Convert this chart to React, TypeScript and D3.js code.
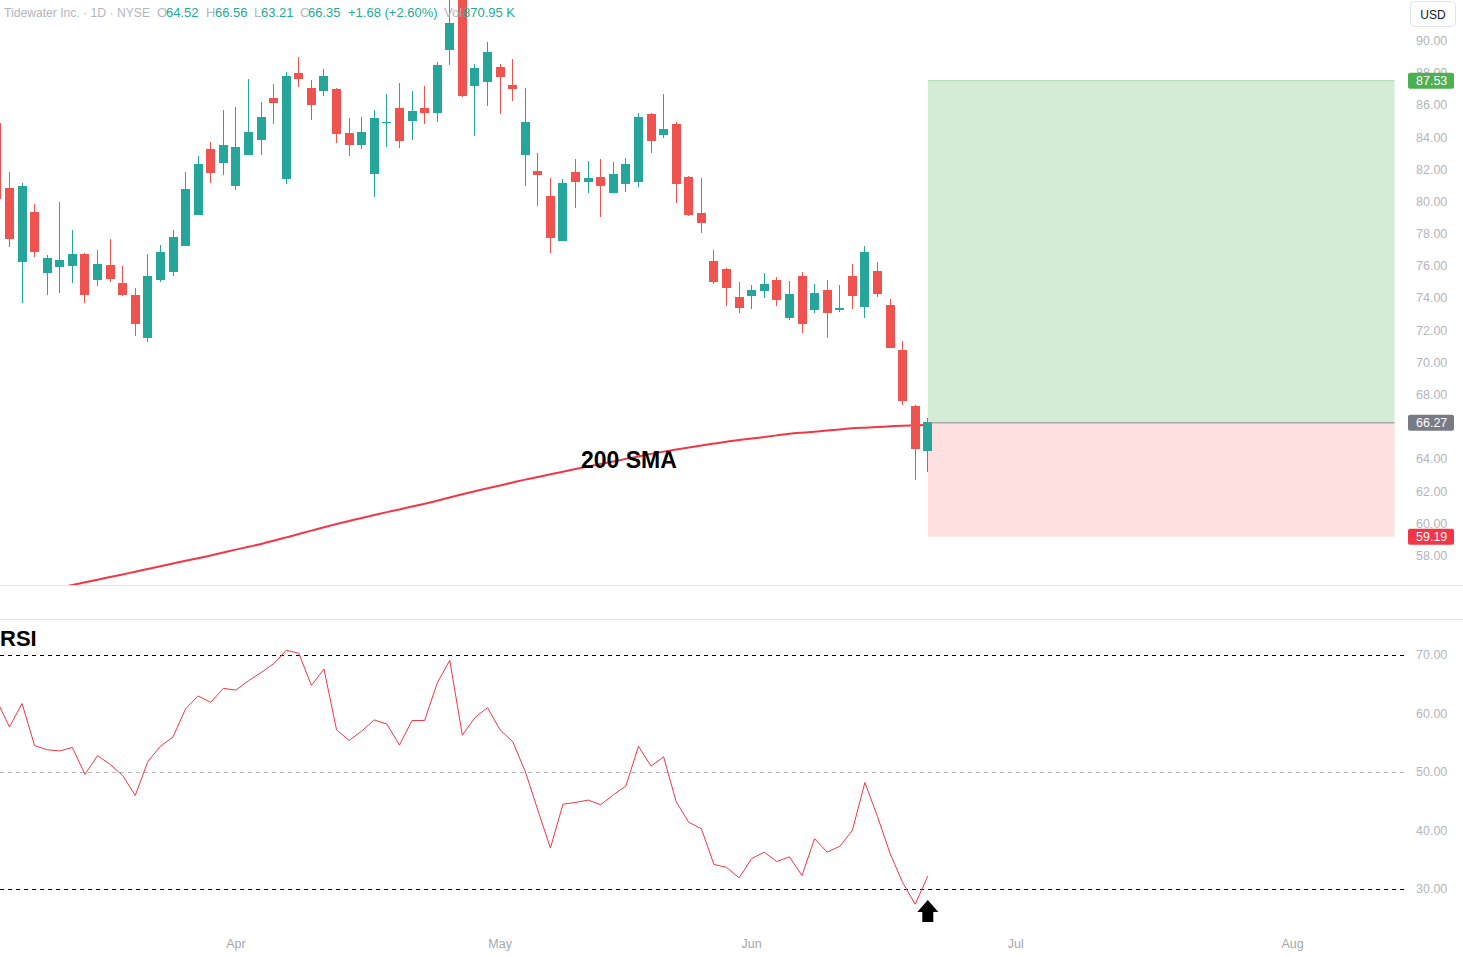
import * as d3 from "d3";

// header
const tickerName = "Tidewater Inc. · 1D · NYSE";
const ohlcLetters = ["O", "H", "L", "C"];
const ohlcText = ["64.52", "66.56", "63.21", "66.35"];
const changeText = "+1.68 (+2.60%)";
const volText = "870.95 K";

// daily candles, index 0 is the bar cut off at the left edge
const opens = [
  84.88, 80.88, 76.28, 79.37, 75.6, 75.97, 76.03, 76.76, 75.17, 76.08, 74.96, 74.21, 71.56, 75.17, 75.66,
  77.28, 79.2, 83.29, 82.44, 81.01, 82.93, 83.87, 86.46, 81.44, 88.01, 87.08, 86.91, 87.02, 84.28, 83.55,
  81.75, 84.9, 85.84, 85.05, 85.84, 85.54, 89.46, 93.2, 87.22, 87.47, 88.38, 87.27, 82.93, 81.92, 80.37,
  77.59, 81.86, 81.26, 81.55, 80.57, 81.13, 81.26, 85.46, 84.18, 84.84, 81.55, 79.31, 76.33, 75.83, 74.09,
  74.17, 74.48, 75.15, 72.8, 75.39, 73.3, 74.52, 73.3, 75.39, 73.49, 75.7, 73.59, 70.8, 67.32, 64.52,
];
const highs = [
  85.21, 81.88, 81.17, 79.87, 76.7, 79.99, 78.25, 76.8, 77.01, 77.69, 76.02, 74.67, 76.76, 77.32, 78.25,
  81.86, 82.85, 83.72, 85.73, 85.9, 87.64, 86.23, 87.33, 88.09, 89.01, 87.57, 88.26, 87.1, 85.23, 85.28,
  85.71, 86.71, 87.39, 86.89, 87.2, 88.69, 92.8, 93.8, 88.57, 89.94, 88.57, 88.88, 87.08, 83.04, 81.49,
  81.42, 82.67, 82.54, 82.67, 82.48, 82.73, 85.52, 85.5, 86.71, 84.97, 81.6, 81.49, 77.01, 75.89, 75.02,
  74.84, 75.58, 75.33, 75.08, 75.64, 74.9, 75.15, 74.84, 76.14, 77.26, 76.27, 73.97, 71.36, 67.35, 66.56,
];
const lows = [
  79.81, 77.2, 73.73, 76.59, 74.23, 74.36, 74.98, 73.73, 74.79, 75.04, 74.17, 71.68, 71.31, 75.04, 75.41,
  77.25, 79.18, 81.19, 81.69, 80.76, 82.9, 82.93, 84.86, 81.13, 87.16, 85.11, 86.6, 83.68, 82.87, 83.31,
  80.32, 83.43, 83.37, 83.87, 84.86, 84.98, 88.53, 86.54, 84.11, 85.98, 85.48, 86.29, 81.01, 79.76, 76.84,
  77.55, 79.64, 80.57, 79.08, 80.55, 80.63, 80.95, 83.06, 83.99, 79.95, 79.15, 78.09, 74.92, 73.55, 73.11,
  73.36, 74.05, 73.55, 72.68, 71.87, 73.11, 71.56, 73.18, 73.36, 72.8, 74.11, 70.9, 67.4, 62.73, 63.21,
];
const closes = [
  80.18, 77.69, 80.99, 76.9, 76.51, 76.39, 76.76, 74.23, 76.14, 75.23, 74.23, 72.43, 75.4, 76.89, 77.82,
  80.8, 82.35, 81.81, 83.54, 83.41, 84.34, 85.28, 86.17, 87.82, 87.66, 86.04, 87.82, 84.24, 83.55, 84.34,
  85.22, 84.97, 83.8, 85.65, 85.54, 88.51, 91.12, 86.6, 88.32, 89.32, 87.78, 87.04, 84.97, 81.69, 77.77,
  81.17, 81.26, 81.49, 81.01, 81.73, 82.36, 85.28, 83.8, 84.53, 81.13, 79.2, 78.71, 75.04, 74.67, 73.42,
  74.52, 74.9, 73.92, 74.28, 72.43, 74.34, 73.11, 73.41, 74.17, 76.89, 74.3, 70.94, 67.64, 64.67, 66.35,
];

const sma200 = [
  55.2, 55.37, 55.53, 55.7, 55.86, 56.03, 56.19, 56.36, 56.52, 56.69, 56.85, 57.02, 57.19, 57.36, 57.53,
  57.7, 57.86, 58.03, 58.21, 58.39, 58.57, 58.74, 58.94, 59.15, 59.36, 59.57, 59.78, 59.98, 60.17, 60.36,
  60.54, 60.72, 60.89, 61.07, 61.24, 61.43, 61.63, 61.83, 62.02, 62.2, 62.38, 62.56, 62.74, 62.9, 63.07,
  63.23, 63.4, 63.56, 63.72, 63.87, 64.03, 64.18, 64.34, 64.48, 64.61, 64.73, 64.86, 64.98, 65.1, 65.2,
  65.29, 65.39, 65.49, 65.59, 65.66, 65.72, 65.79, 65.86, 65.93, 65.97, 66.01, 66.05, 66.09, 66.12, 66.13,
];

const rsi = [
  62.2, 57.7, 61.7, 54.5, 53.8, 53.6, 54.2, 49.6, 52.8, 51.3, 49.4, 46.0, 51.8, 54.4, 56.0,
  60.8, 63.0, 61.9, 64.3, 64.0, 65.6, 67.0, 68.5, 70.8, 70.3, 64.8, 67.6, 57.2, 55.4, 57.0,
  58.9, 58.2, 54.6, 58.8, 58.8, 65.2, 69.1, 56.3, 59.3, 61.0, 57.2, 55.2, 50.1, 43.5, 37.0,
  44.5, 44.8, 45.2, 44.4, 46.1, 47.6, 54.4, 51.0, 52.6, 44.9, 41.4, 40.3, 34.2, 33.7, 31.9,
  35.2, 36.3, 34.7, 35.5, 32.3, 38.6, 36.3, 37.3, 40.0, 48.2, 42.4, 36.1, 31.1, 27.4, 32.2,
];

// long position tool
const targetPrice = 87.53;
const entryPrice = 66.27;
const stopPrice = 59.19;
const positionStart = 74;
const positionEnd = 111.1;

// 66.00 sits under the entry label, so it is left out
const priceTicks = [58, 60, 62, 64, 68, 70, 72, 74, 76, 78, 80, 82, 84, 86, 88, 90];
const rsiTicks = [30, 40, 50, 60, 70];
const rsiLevels = [70, 50, 30];
const monthLabels = ["Apr", "May", "Jun", "Jul", "Aug"];
const monthIndex = [19, 40, 60, 81, 103];

const W = 1463;
const H = 957;
const plotRight = 1406;
const priceBottom = 585;
const rsiTop = 619;
const rsiBottom = 932;
const axisX = 1416;

const GREEN = "#26a69a";
const RED = "#ef5350";
const AXIS_TEXT = "#b2b5be";
const FONT = "'Liberation Sans', Arial, sans-serif";

export default function App() {
  const x = d3.scaleLinear().domain([0, 74]).range([-3.1, 927.8]);
  const yPrice = d3.scaleLinear().domain([58, 90]).range([555.9, 41]);
  const yRsi = d3.scaleLinear().domain([30, 70]).range([889, 655]);

  const smaPath = d3
    .line<number>()
    .x((_, i) => x(i))
    .y((d) => yPrice(d))
    .curve(d3.curveMonotoneX)(sma200)!;

  const rsiPath = d3
    .line<number>()
    .x((_, i) => x(i))
    .y((d) => yRsi(d))(rsi)!;

  const bodyW = 9;
  const posX0 = x(positionStart);
  const posX1 = x(positionEnd);

  const priceBoxes = [
    { v: targetPrice, fill: "#4caf50" },
    { v: entryPrice, fill: "#787b86" },
    { v: stopPrice, fill: "#f23645" },
  ];

  const lastX = x(rsi.length - 1);
  const arrowTop = 900;

  return (
    <svg
      width={W}
      height={H}
      style={{ position: "absolute", left: 0, top: 0, display: "block", background: "#fff" }}
      fontFamily={FONT}
    >
      <defs>
        <clipPath id="priceClip">
          <rect x={0} y={0} width={plotRight} height={priceBottom} />
        </clipPath>
        <clipPath id="rsiClip">
          <rect x={0} y={rsiTop} width={plotRight} height={rsiBottom - rsiTop} />
        </clipPath>
      </defs>

      {/* pane separators */}
      <line x1={0} x2={W} y1={priceBottom + 0.5} y2={priceBottom + 0.5} stroke="#e0e3eb" />
      <line x1={0} x2={W} y1={rsiTop + 0.5} y2={rsiTop + 0.5} stroke="#e0e3eb" />

      <g clipPath="url(#priceClip)">
        {/* position zones */}
        <rect
          x={posX0}
          y={yPrice(targetPrice)}
          width={posX1 - posX0}
          height={yPrice(entryPrice) - yPrice(targetPrice)}
          fill="#d4ecd6"
        />
        <rect
          x={posX0}
          y={yPrice(entryPrice)}
          width={posX1 - posX0}
          height={yPrice(stopPrice) - yPrice(entryPrice)}
          fill="#fde0df"
        />
        <line x1={posX0} x2={posX1} y1={yPrice(targetPrice)} y2={yPrice(targetPrice)} stroke="#a9d8ab" />

        <path d={smaPath} fill="none" stroke="#f23645" strokeWidth={2} />

        {opens.map((o, i) => {
          const c = closes[i];
          const up = c >= o;
          const col = up ? GREEN : RED;
          const cx = x(i);
          const top = yPrice(Math.max(o, c));
          const bot = yPrice(Math.min(o, c));
          return (
            <g key={i} fill={col} shapeRendering="crispEdges">
              <rect x={cx - 0.5} y={yPrice(highs[i])} width={1} height={yPrice(lows[i]) - yPrice(highs[i])} />
              <rect x={cx - bodyW / 2} y={top} width={bodyW} height={Math.max(1, bot - top)} />
            </g>
          );
        })}

        <line
          x1={posX0}
          x2={posX1}
          y1={yPrice(entryPrice)}
          y2={yPrice(entryPrice)}
          stroke="#8a8d96"
        />

        <text x={581} y={467.5} fontSize={23} fontWeight="bold" fill="#000">
          200 SMA
        </text>
      </g>

      {/* header */}
      <g fontSize={13} fill={AXIS_TEXT}>
        <text x={4} y={17} textLength={146} lengthAdjust="spacingAndGlyphs">
          {tickerName}
        </text>
        {ohlcLetters.map((l, i) => (
          <g key={l}>
            <text x={[157, 206, 254, 300][i]} y={17}>{l}</text>
            <text x={[166, 215, 261, 308][i]} y={17} fill="#22ab94">{ohlcText[i]}</text>
          </g>
        ))}
        <text x={348} y={17} fill="#22ab94">{changeText}</text>
        <text x={444} y={17}>Vol</text>
        <text x={463} y={17} fill="#22ab94">{volText}</text>
      </g>

      {/* price axis */}
      <g fontSize={12.5} fill={AXIS_TEXT}>
        {priceTicks.map((t) => (
          <text key={t} x={axisX} y={yPrice(t)} dominantBaseline="central">
            {t.toFixed(2)}
          </text>
        ))}
      </g>
      {priceBoxes.map((b) => (
        <g key={b.v}>
          <rect x={1408} y={yPrice(b.v) - 8} width={46} height={16} rx={2} fill={b.fill} />
          <text x={axisX} y={yPrice(b.v)} dominantBaseline="central" fontSize={12.5} fill="#fff">
            {b.v.toFixed(2)}
          </text>
        </g>
      ))}

      {/* USD button */}
      <rect x={1410.5} y={1.5} width={45} height={25} rx={4} fill="#fff" stroke="#e0e3eb" />
      <text x={1433} y={14.5} textAnchor="middle" dominantBaseline="central" fontSize={12} fill="#131722">
        USD
      </text>

      {/* RSI pane */}
      <text x={0} y={645.5} fontSize={22} fontWeight="bold" fill="#000">
        RSI
      </text>
      <g clipPath="url(#rsiClip)">
        {rsiLevels.map((lv) => (
          <line
            key={lv}
            x1={0}
            x2={plotRight}
            y1={Math.round(yRsi(lv)) + 0.5}
            y2={Math.round(yRsi(lv)) + 0.5}
            stroke={lv === 50 ? "#b2b5be" : "#000"}
            strokeDasharray="4 4"
          />
        ))}
        <path d={rsiPath} fill="none" stroke="#f23645" strokeWidth={1} />
      </g>
      <g fontSize={12.5} fill={AXIS_TEXT}>
        {rsiTicks.map((t) => (
          <text key={t} x={axisX} y={yRsi(t)} dominantBaseline="central">
            {t.toFixed(2)}
          </text>
        ))}
      </g>

      {/* arrow marker under the last bar */}
      <path
        d={`M${lastX},${arrowTop} L${lastX + 10.5},${arrowTop + 12} L${lastX + 5.5},${arrowTop + 12} L${lastX + 5.5},${arrowTop + 22} L${lastX - 5.5},${arrowTop + 22} L${lastX - 5.5},${arrowTop + 12} L${lastX - 10.5},${arrowTop + 12} Z`}
        fill="#000"
      />

      {/* time axis */}
      <g fontSize={12.5} fill="#a3a6af" textAnchor="middle">
        {monthLabels.map((m, i) => (
          <text key={m} x={x(monthIndex[i])} y={944} dominantBaseline="central">
            {m}
          </text>
        ))}
      </g>
    </svg>
  );
}
